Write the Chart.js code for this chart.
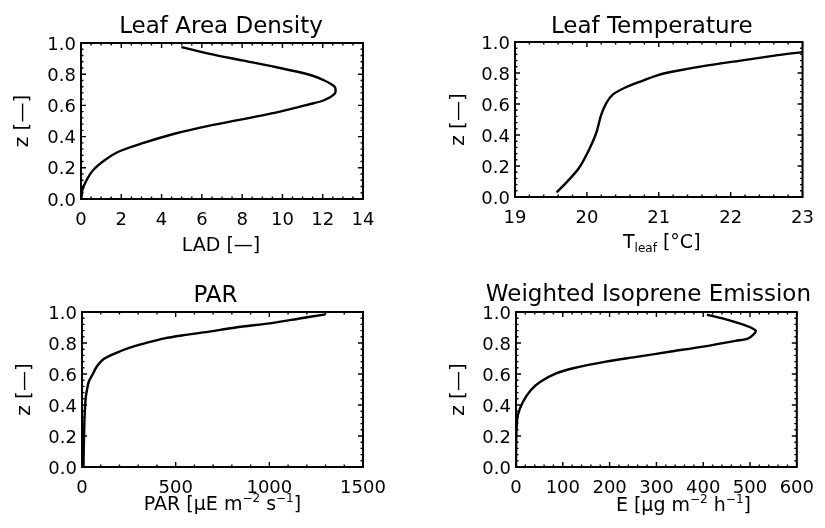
<!DOCTYPE html>
<html>
<head>
<meta charset="utf-8">
<script src="https://cdn.jsdelivr.net/npm/chart.js@4.4.1/dist/chart.umd.min.js"></script>
<style>
	body { margin: 0; background: #fff; }
	#wrap { position: relative; width: 825px; height: 528px; }
	canvas { position: absolute; }
</style>
</head>
<body>
<div id="wrap">
	<canvas id="ladChart" width="412" height="264" style="left:0;top:0"></canvas>
	<canvas id="tleafChart" width="413" height="264" style="left:412px;top:0"></canvas>
	<canvas id="parChart" width="412" height="264" style="left:0;top:264px"></canvas>
	<canvas id="isoChart" width="413" height="264" style="left:412px;top:264px"></canvas>
</div>
<script>
"use strict";

// Profiles: normalised height z and the value at that height
const ladHeights = [0.0, 0.015, 0.058, 0.122, 0.186, 0.25, 0.303, 0.356, 0.42, 0.469, 0.51, 0.563, 0.606, 0.633, 0.676, 0.718, 0.761, 0.798, 0.846, 0.889, 0.932, 0.974];
const ladValues = [0.0, 0.03, 0.07, 0.28, 0.61, 1.19, 1.86, 3.02, 4.68, 6.33, 7.99, 9.98, 11.3, 12.06, 12.6, 12.6, 12.06, 11.3, 9.65, 7.99, 6.33, 4.98];

const tleafHeights = [0.03, 0.101, 0.187, 0.305, 0.413, 0.531, 0.606, 0.66, 0.703, 0.746, 0.785, 0.811, 0.849, 0.88, 0.912, 0.935];
const tleafValues = [19.58, 19.73, 19.89, 20.03, 20.13, 20.2, 20.27, 20.36, 20.52, 20.75, 20.98, 21.22, 21.68, 22.14, 22.61, 23.0];

const parHeights = [0.0, 0.1, 0.2, 0.3, 0.4, 0.45, 0.5, 0.55, 0.6, 0.65, 0.7, 0.75, 0.78, 0.8, 0.83, 0.85, 0.87, 0.9, 0.93, 0.96, 0.985];
const parValues = [8, 9, 11, 13, 17, 20, 27, 36, 58, 80, 120, 210, 280, 340, 440, 540, 660, 820, 1020, 1170, 1300];

const isoHeights = [0.0, 0.054, 0.227, 0.335, 0.421, 0.497, 0.551, 0.605, 0.637, 0.68, 0.712, 0.745, 0.777, 0.814, 0.831, 0.881, 0.935, 0.983];
const isoValues = [0, 0, 1, 4, 15, 32, 53, 87, 122, 192, 261, 331, 400, 469, 497, 512, 469, 408];

// Tick labels
const zTicks = [0, 0.2, 0.4, 0.6, 0.8, 1.0];
const ladTicks = [0, 2, 4, 6, 8, 10, 12, 14];
const tleafTicks = [19, 20, 21, 22, 23];
const parTicks = [0, 500, 1000, 1500];
const isoTicks = [0, 100, 200, 300, 400, 500, 600];

// Titles (x titles are split in pieces so sub/superscripts can be drawn)
const ladTitle = "Leaf Area Density";
const tleafTitle = "Leaf Temperature";
const parTitle = "PAR";
const isoTitle = "Weighted Isoprene Emission";
const zTitle = "z [—]";
const ladXTitle = [["LAD [—]"]];
const tleafXTitle = [["T"], ["leaf", "sub"], [" [°C]"]];
const parXTitle = [["PAR [μE m"], ["−2", "sup"], [" s"], ["−1", "sup"], ["]"]];
const isoXTitle = [["E [μg m"], ["−2", "sup"], [" h"], ["−1", "sup"], ["]"]];

const FONT = "DejaVu Sans";

// Box around the plot with inward major/minor ticks on all four sides
const framePlugin = {
	id: "frame",
	afterDatasetsDraw(chart, args, opts) {
		const { ctx, chartArea: a, scales } = chart;

		function mark(scale, v, len) {
			const p = scale.getPixelForValue(v);
			if (scale.isHorizontal()) {
				ctx.moveTo(p, a.bottom);
				ctx.lineTo(p, a.bottom - len);
				ctx.moveTo(p, a.top);
				ctx.lineTo(p, a.top + len);
			} else {
				ctx.moveTo(a.left, p);
				ctx.lineTo(a.left + len, p);
				ctx.moveTo(a.right, p);
				ctx.lineTo(a.right - len, p);
			}
		}

		ctx.save();
		ctx.strokeStyle = "#000";
		ctx.lineWidth = 2;
		ctx.strokeRect(a.left, a.top, a.right - a.left, a.bottom - a.top);
		ctx.lineWidth = 1.4;
		ctx.beginPath();
		[["x", opts.xMinor], ["y", opts.yMinor]].forEach(function ([key, minor]) {
			const scale = scales[key];
			const values = scale.ticks.map((t) => t.value);
			values.forEach(function (v, i) {
				mark(scale, v, 5);
				if (i < values.length - 1) {
					const step = (values[i + 1] - v) / minor;
					for (let k = 1; k < minor; k++) {
						mark(scale, v + k * step, 2.5);
					}
				}
			});
		});
		ctx.stroke();
		ctx.restore();
	},
};

// Panel title above the box and the x axis title below it
const textPlugin = {
	id: "panelText",
	afterDraw(chart, args, opts) {
		const { ctx, chartArea: a } = chart;
		const cx = (a.left + a.right) / 2;
		const sizes = { normal: 19, sup: 12, sub: 12 };
		const shift = { normal: 0, sup: -8, sub: 4 };

		ctx.save();
		ctx.fillStyle = "#000";
		ctx.textBaseline = "alphabetic";
		ctx.textAlign = "center";
		ctx.font = "23px '" + FONT + "'";
		ctx.fillText(opts.title, cx + opts.titleDx, opts.titleY);

		ctx.textAlign = "left";
		const widths = opts.xTitle.map(function ([text, kind = "normal"]) {
			ctx.font = sizes[kind] + "px '" + FONT + "'";
			return ctx.measureText(text).width;
		});
		let x = cx + opts.xTitleDx - widths.reduce((s, w) => s + w, 0) / 2;
		const y = a.bottom + opts.xTitleDy;
		opts.xTitle.forEach(function ([text, kind = "normal"], i) {
			ctx.font = sizes[kind] + "px '" + FONT + "'";
			ctx.fillText(text, x, y + shift[kind]);
			x += widths[i];
		});
		ctx.restore();
	},
};

function drawPanel(id, p) {
	const points = p.values.map((v, i) => ({ x: v, y: p.heights[i] }));

	new Chart(document.getElementById(id), {
		type: "scatter",
		data: {
			datasets: [
				{
					data: points,
					showLine: true,
					borderColor: "#000",
					borderWidth: 2.4,
					pointRadius: 0,
					tension: 0.3,
					fill: false,
				},
			],
		},
		options: {
			responsive: false,
			animation: false,
			layout: { padding: { left: 0, top: p.top, right: p.right, bottom: 0 } },
			plugins: {
				legend: { display: false },
				tooltip: { enabled: false },
				frame: { xMinor: p.xMinor, yMinor: 5 },
				panelText: {
					title: p.title,
					titleDx: p.titleDx,
					titleY: p.titleY,
					xTitle: p.xTitle,
					xTitleDx: p.xTitleDx,
					xTitleDy: p.xTitleDy,
				},
			},
			scales: {
				x: {
					type: "linear",
					min: p.xTicks[0],
					max: p.xTicks[p.xTicks.length - 1],
					afterFit: (s) => { s.height = p.xHeight; },
					afterBuildTicks: (s) => { s.ticks = p.xTicks.map((v) => ({ value: v })); },
					grid: { display: false, drawTicks: false },
					border: { display: false },
					ticks: {
						padding: 11,
						color: "#000",
						maxRotation: 0,
						autoSkip: false,
						font: { family: FONT, size: 18 },
						callback: (v) => String(v),
					},
				},
				y: {
					type: "linear",
					min: 0,
					max: 1,
					afterFit: (s) => { s.width = p.yWidth; },
					afterBuildTicks: (s) => { s.ticks = zTicks.map((v) => ({ value: v })); },
					grid: { display: false, drawTicks: false },
					border: { display: false },
					ticks: {
						padding: 5,
						labelOffset: 2,
						color: "#000",
						autoSkip: false,
						font: { family: FONT, size: 18 },
						callback: (v) => v.toFixed(1),
					},
					title: {
						display: true,
						text: zTitle,
						color: "#000",
						font: { family: FONT, size: 20 },
						padding: { top: p.yTitleX - 12, bottom: 0 },
					},
				},
			},
		},
		plugins: [framePlugin, textPlugin],
	});
}

drawPanel("ladChart", {
	heights: ladHeights, values: ladValues, xTicks: ladTicks, xMinor: 4,
	title: ladTitle, titleDx: -1, titleY: 33,
	xTitle: ladXTitle, xTitleDx: -1, xTitleDy: 52,
	top: 43, right: 49, yWidth: 81, xHeight: 65, yTitleX: 23,
});

drawPanel("tleafChart", {
	heights: tleafHeights, values: tleafValues, xTicks: tleafTicks, xMinor: 5,
	title: tleafTitle, titleDx: -7, titleY: 33,
	xTitle: tleafXTitle, xTitleDx: 3, xTitleDy: 51,
	top: 42, right: 21, yWidth: 103, xHeight: 67, yTitleX: 47,
});

drawPanel("parChart", {
	heights: parHeights, values: parValues, xTicks: parTicks, xMinor: 5,
	title: parTitle, titleDx: -7, titleY: 38,
	xTitle: parXTitle, xTitleDx: 0, xTitleDy: 43,
	top: 48, right: 49, yWidth: 82, xHeight: 61, yTitleX: 25,
});

drawPanel("isoChart", {
	heights: isoHeights, values: isoValues, xTicks: isoTicks, xMinor: 5,
	title: isoTitle, titleDx: -8, titleY: 37,
	xTitle: isoXTitle, xTitleDx: 27, xTitleDy: 44,
	top: 48, right: 21, yWidth: 104, xHeight: 61, yTitleX: 47,
});
</script>
</body>
</html>
